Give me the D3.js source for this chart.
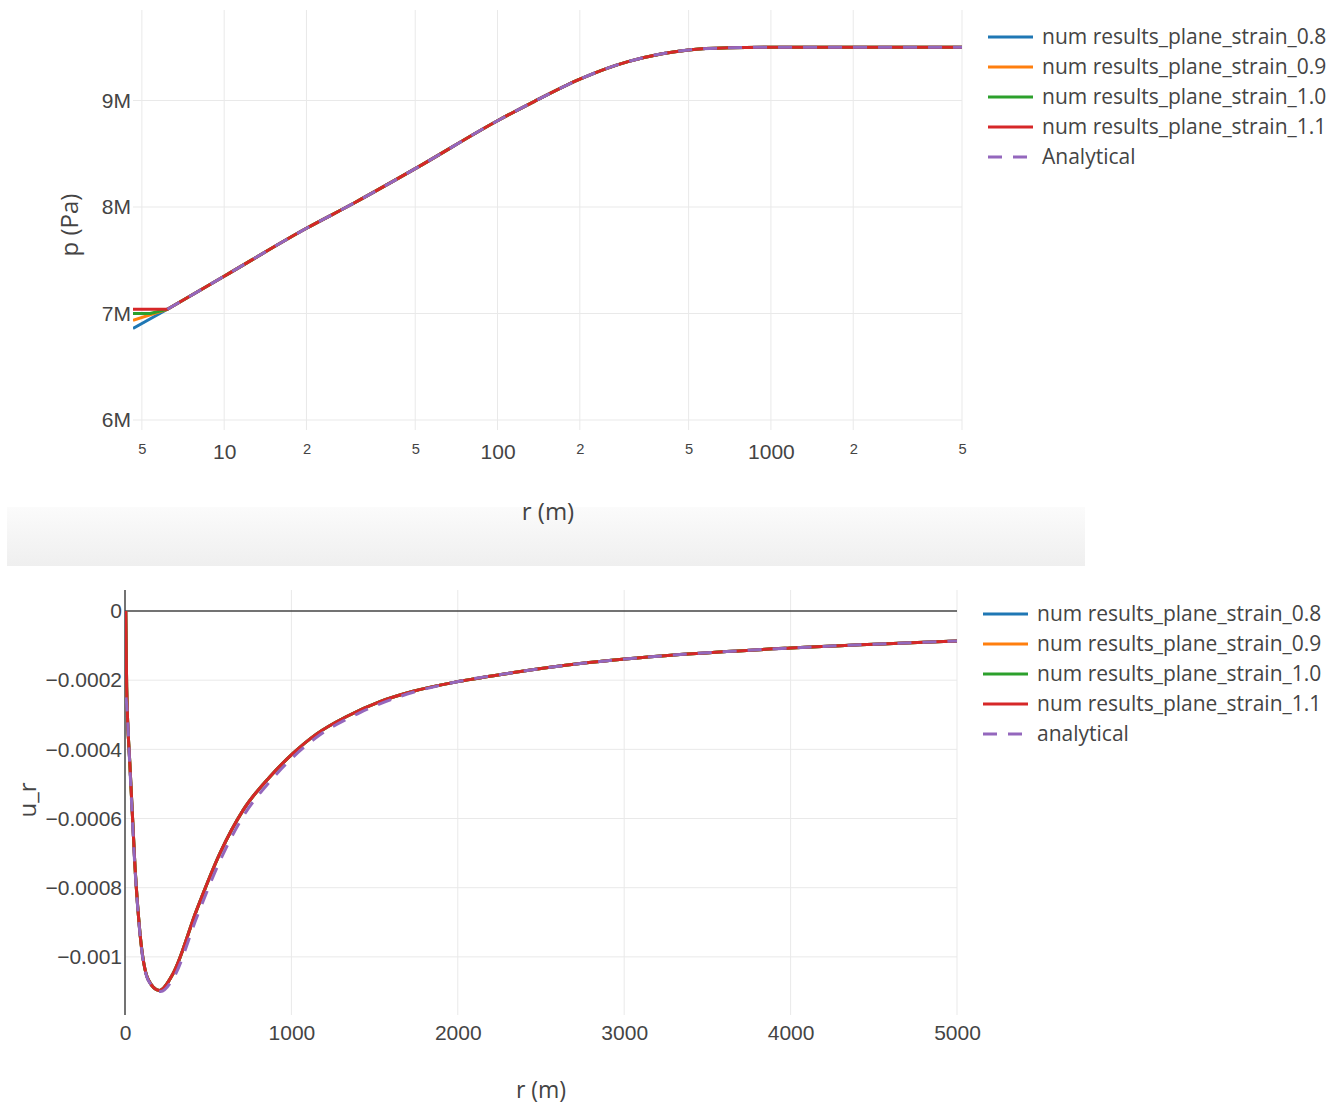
<!DOCTYPE html>
<html>
<head>
<meta charset="utf-8">
<script src="https://cdn.jsdelivr.net/npm/d3@7"></script>
<style>
  body { margin: 0; background: #fff; }
  svg { display: block; font-family: "Open Sans", sans-serif; }
  .grid line { stroke: #e9e9e9; stroke-width: 1; }
  .tick text { fill: #444; }
</style>
</head>
<body>
<svg id="chart" width="1344" height="1106"></svg>
<script>
/* =========================
   DATA
========================= */
const seriesNames = [
  "num results_plane_strain_0.8",
  "num results_plane_strain_0.9",
  "num results_plane_strain_1.0",
  "num results_plane_strain_1.1"
];
const colors = ["#1f77b4", "#ff7f0e", "#2ca02c", "#d62728", "#9467bd"];

// pressure vs r (log axis) - shared part of the numerical curves
const pR = [6.2, 10, 20, 30, 50, 100, 136, 200, 250, 300, 400, 500, 700, 1000, 2000, 5000];
const pVal = [7.04e6, 7.35e6, 7.8e6, 8.04e6, 8.36e6, 8.81e6, 8.99e6, 9.2e6, 9.3e6, 9.365e6, 9.44e6, 9.475e6, 9.495e6, 9.5e6, 9.5e6, 9.5e6];
// first points near the well differ per series
const pHeadR = [[4.64], [4.64], [4.64, 5.36], [4.64]];
const pHeadVal = [[6.86e6], [6.935e6], [7.0e6, 7.0e6], [7.04e6]];

const pTicksX = [5, 10, 20, 50, 100, 200, 500, 1000, 2000, 5000];
const pTicksY = [6e6, 7e6, 8e6, 9e6];

// radial displacement vs r
const uR = [4.64, 10, 30, 60, 90, 140, 206, 290, 431, 571, 711, 871, 1011, 1150, 1332, 1532, 1732, 2003, 2335, 2735, 3005, 3335, 4000, 5000];
const uNum = [0, -0.000219, -0.00045, -0.000739, -0.000931, -0.001066, -0.001097, -0.001047, -0.000864, -0.0007, -0.000575, -0.000479, -0.000411, -0.000356, -0.000305, -0.000262, -0.000232, -0.000204, -0.000178, -0.000152, -0.000139, -0.000126, -0.000107, -0.0000867];
const uAnR = [6, 10, 30, 60, 90, 140, 215, 290, 431, 571, 711, 871, 1011, 1172, 1412, 1732, 2003, 2335, 2735, 3005, 3335, 4000, 5000];
const uAn = [-0.00025, -0.00027, -0.00046, -0.000745, -0.000935, -0.001068, -0.0011, -0.001062, -0.000886, -0.000722, -0.000593, -0.000493, -0.000422, -0.000358, -0.000294, -0.000235, -0.000204, -0.000178, -0.000152, -0.000139, -0.000126, -0.000107, -0.0000867];

const uTicksX = [0, 1000, 2000, 3000, 4000, 5000];
const uTicksY = [0, -0.0002, -0.0004, -0.0006, -0.0008, -0.001];

/* =========================
   SETUP
========================= */
const svg = d3.select("#chart");
const FS = 21;
const DASH = "14,11";

// grey band between the two figures
const defs = svg.append("defs");
const grad = defs.append("linearGradient").attr("id", "band").attr("x1", 0).attr("y1", 0).attr("x2", 0).attr("y2", 1);
grad.append("stop").attr("offset", "0%").attr("stop-color", "#fbfbfb");
grad.append("stop").attr("offset", "100%").attr("stop-color", "#efefef");
svg.append("rect").attr("x", 7).attr("y", 507).attr("width", 1078).attr("height", 59).attr("fill", "url(#band)");

const zip = (xs, ys) => xs.map((x, i) => [x, ys[i]]);

/* =========================
   TOP: p vs r
========================= */
const box1 = { l: 133, r: 962, t: 10, b: 430 };
const x1 = d3.scaleLog().domain([4.64, 5000]).range([box1.l, box1.r]);
const y1 = d3.scaleLinear().domain([5.906e6, 9.85e6]).range([box1.b, box1.t]);

const g1 = svg.append("g");
g1.append("g").attr("class", "grid").selectAll("line").data(pTicksX).join("line")
  .attr("x1", d => x1(d)).attr("x2", d => x1(d)).attr("y1", box1.t).attr("y2", box1.b);
g1.append("g").attr("class", "grid").selectAll("line").data(pTicksY).join("line")
  .attr("x1", box1.l).attr("x2", box1.r).attr("y1", d => y1(d)).attr("y2", d => y1(d));

const isMajor = d => Math.abs(Math.log10(d) - Math.round(Math.log10(d))) < 1e-9;
const ax1 = g1.append("g").attr("transform", `translate(0,${box1.b})`)
  .call(d3.axisBottom(x1).tickValues(pTicksX).tickSize(0)
    .tickFormat(d => isMajor(d) ? String(d) : String(d).charAt(0)));
ax1.select(".domain").remove();
ax1.selectAll("text").attr("dy", null)
  .attr("y", d => isMajor(d) ? 28.5 : 24)
  .style("font-size", d => isMajor(d) ? FS + "px" : "14.7px");

const ay1 = g1.append("g").attr("transform", `translate(${box1.l},0)`)
  .call(d3.axisLeft(y1).tickValues(pTicksY).tickSize(0).tickPadding(2).tickFormat(d => d / 1e6 + "M"));
ay1.select(".domain").remove();
ay1.selectAll("text").style("font-size", FS + "px");

g1.append("text").attr("x", 548).attr("y", 520).attr("text-anchor", "middle")
  .attr("fill", "#444").style("font-size", "24px").text("r (m)");
g1.append("text").attr("transform", "translate(78,225) rotate(-90)").attr("text-anchor", "middle")
  .attr("fill", "#444").style("font-size", "24px").text("p (Pa)");

defs.append("clipPath").attr("id", "clip1").append("rect")
  .attr("x", box1.l).attr("y", box1.t).attr("width", box1.r - box1.l).attr("height", box1.b - box1.t);

const line1 = d3.line().x(d => x1(d[0])).y(d => y1(d[1])).curve(d3.curveMonotoneX);
const line1Lin = d3.line().x(d => x1(d[0])).y(d => y1(d[1]));
const plot1 = g1.append("g").attr("clip-path", "url(#clip1)");
seriesNames.forEach((name, i) => {
  const head = zip(pHeadR[i], pHeadVal[i]).concat([[pR[0], pVal[0]]]);
  plot1.append("path").attr("d", line1Lin(head) + line1(zip(pR, pVal)).replace(/^M/, "L"))
    .attr("fill", "none").attr("stroke", colors[i]).attr("stroke-width", 3)
    .attr("stroke-linejoin", "round");
});
plot1.append("path").attr("d", line1(zip(pR, pVal))).attr("fill", "none")
  .attr("stroke", colors[4]).attr("stroke-width", 3).attr("stroke-dasharray", DASH);

/* =========================
   BOTTOM: u_r vs r
========================= */
const box2 = { l: 125, r: 957, t: 590, b: 1015 };
const x2 = d3.scaleLinear().domain([0, 5000]).range([box2.l, box2.r]);
const y2 = d3.scaleLinear().domain([-0.001168, 0.0000607]).range([box2.b, box2.t]);

const g2 = svg.append("g");
g2.append("g").attr("class", "grid").selectAll("line").data(uTicksX.slice(1)).join("line")
  .attr("x1", d => x2(d)).attr("x2", d => x2(d)).attr("y1", box2.t).attr("y2", box2.b);
g2.append("g").attr("class", "grid").selectAll("line").data(uTicksY.slice(1)).join("line")
  .attr("x1", box2.l).attr("x2", box2.r).attr("y1", d => y2(d)).attr("y2", d => y2(d));

// zero lines
g2.append("line").attr("x1", box2.l).attr("x2", box2.r).attr("y1", y2(0)).attr("y2", y2(0))
  .attr("stroke", "#444").attr("stroke-width", 1.5);
g2.append("line").attr("x1", x2(0)).attr("x2", x2(0)).attr("y1", box2.t).attr("y2", box2.b)
  .attr("stroke", "#444").attr("stroke-width", 1.5);

const ax2 = g2.append("g").attr("transform", `translate(0,${box2.b})`)
  .call(d3.axisBottom(x2).tickValues(uTicksX).tickSize(0).tickFormat(d => String(d)));
ax2.select(".domain").remove();
ax2.selectAll("text").attr("dy", null).attr("y", 24.5).style("font-size", FS + "px");

const ay2 = g2.append("g").attr("transform", `translate(${box2.l},0)`)
  .call(d3.axisLeft(y2).tickValues(uTicksY).tickSize(0).tickPadding(3)
    .tickFormat(d => d === 0 ? "0" : "\u2212" + String(Math.abs(d))));
ay2.select(".domain").remove();
ay2.selectAll("text").style("font-size", FS + "px");

g2.append("text").attr("x", 541).attr("y", 1098).attr("text-anchor", "middle")
  .attr("fill", "#444").style("font-size", "23px").text("r (m)");
g2.append("text").attr("transform", "translate(36,800) rotate(-90)").attr("text-anchor", "middle")
  .attr("fill", "#444").style("font-size", "24px").text("u_r");

defs.append("clipPath").attr("id", "clip2").append("rect")
  .attr("x", box2.l).attr("y", box2.t).attr("width", box2.r - box2.l).attr("height", box2.b - box2.t);

const line2 = d3.line().x(d => x2(d[0])).y(d => y2(d[1])).curve(d3.curveMonotoneX);
const plot2 = g2.append("g").attr("clip-path", "url(#clip2)");
seriesNames.forEach((name, i) => {
  plot2.append("path").attr("d", line2(zip(uR, uNum))).attr("fill", "none")
    .attr("stroke", colors[i]).attr("stroke-width", 3);
});
plot2.append("path").attr("d", line2(zip(uAnR, uAn))).attr("fill", "none")
  .attr("stroke", colors[4]).attr("stroke-width", 3).attr("stroke-dasharray", DASH);

/* =========================
   LEGENDS
========================= */
function legend(x, y, labels) {
  const lg = svg.append("g").attr("transform", `translate(${x},${y})`);
  labels.forEach((lab, i) => {
    const row = lg.append("g").attr("transform", `translate(0,${i * 30})`);
    row.append("line").attr("x1", 0).attr("x2", 45).attr("y1", 0).attr("y2", 0)
      .attr("stroke", colors[i]).attr("stroke-width", 3)
      .attr("stroke-dasharray", i === 4 ? DASH : null);
    row.append("text").attr("x", 54).attr("y", 7).attr("fill", "#444")
      .style("font-size", FS + "px").text(lab);
  });
}
legend(988, 37, seriesNames.concat(["Analytical"]));
legend(983, 614, seriesNames.concat(["analytical"]));
</script>
</body>
</html>
